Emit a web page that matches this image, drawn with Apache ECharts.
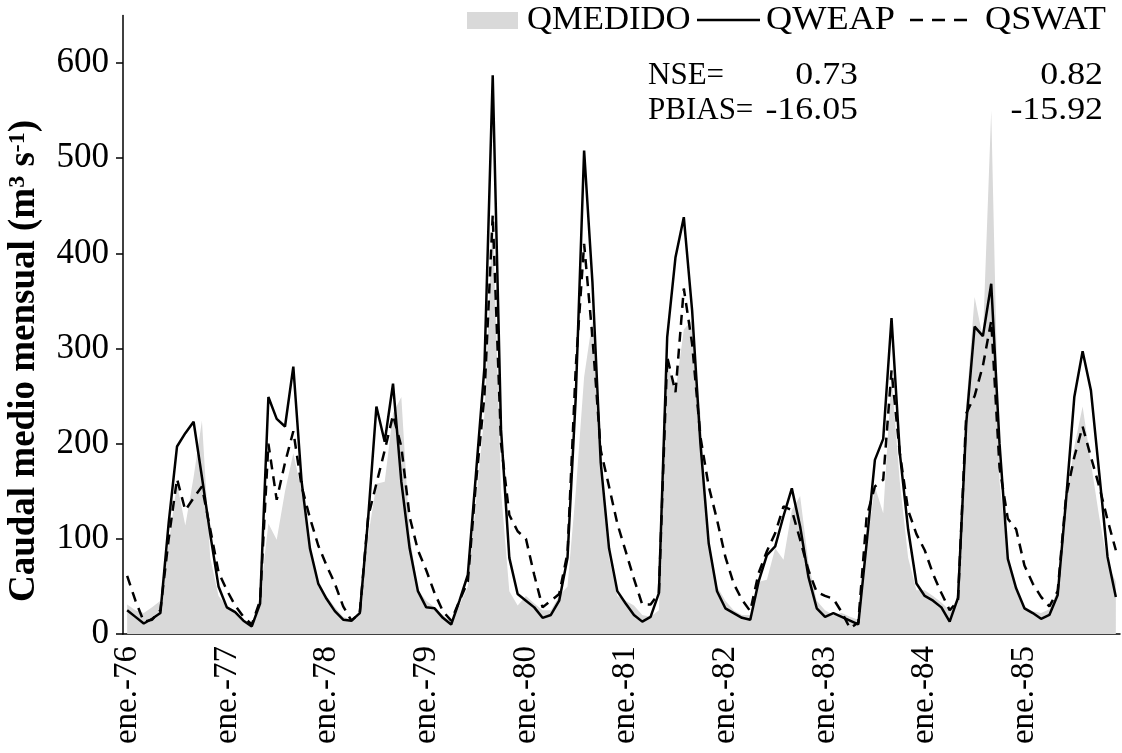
<!DOCTYPE html>
<html>
<head>
<meta charset="utf-8">
<script src="https://cdn.jsdelivr.net/npm/echarts@6/dist/echarts.min.js"></script>
<style>
html,body{margin:0;padding:0;background:#fff;}
#chart{width:1122px;height:753px;}
</style>
</head>
<body>
<div id="chart"></div>
<script>
// ---- data ----
const monthAbbr = ['ene.','feb.','mar.','abr.','may.','jun.','jul.','ago.','sep.','oct.','nov.','dic.'];
const yearLabels = ['76','77','78','79','80','81','82','83','84','85'];
const yTicks = [0,100,200,300,400,500,600];

const qmedido = [
  31,25,22,28,35,95,158,114,165,224,80,40,
  29,25,14,8,40,116,99,150,190,150,90,50,
  40,28,18,15,22,102,158,160,232,249,105,46,
  35,28,20,12,30,50,140,230,440,150,45,30,
  40,32,25,25,40,50,150,270,330,180,80,40,
  35,30,20,18,25,285,255,320,330,230,100,50,
  35,25,20,20,55,57,90,78,130,145,75,35,
  25,20,22,18,15,90,155,127,270,160,80,46,
  46,40,33,25,38,240,354,311,550,160,80,50,
  29,24,22,26,46,137,197,239,180,123,74,55
];
const qweap = [
  25,18,11,16,22,117,197,211,223,165,105,50,
  28,23,14,8,32,249,226,218,281,160,90,53,
  37,24,15,14,22,121,239,202,263,160,90,45,
  28,27,17,10,35,62,170,280,587,215,80,42,
  35,28,17,20,35,80,250,508,370,180,90,45,
  32,20,13,18,43,312,396,438,340,200,95,45,
  27,22,17,15,55,83,92,124,153,113,60,27,
  18,22,18,14,10,95,183,205,332,190,110,53,
  40,35,28,13,38,222,323,313,368,200,79,48,
  27,22,16,20,41,140,249,297,256,169,81,39
];
const qswat = [
  61,35,13,15,25,100,163,130,143,155,110,65,
  46,30,18,10,35,200,141,180,213,155,122,93,
  72,53,29,14,22,123,158,193,230,197,123,88,
  67,43,24,14,35,55,160,250,440,200,125,108,
  100,62,28,35,42,85,281,410,312,193,155,116,
  87,58,31,31,43,291,254,363,305,207,155,120,
  81,53,36,24,64,87,106,134,130,99,67,44,
  40,37,23,6,12,123,155,162,277,190,130,105,
  88,63,43,25,35,232,250,282,329,175,121,110,
  72,53,39,29,45,144,186,218,186,155,120,88
];
const stats = { nse: ['0.73','0.82'], pbias: ['-16.05','-15.92'] };

const categories = [];
yearLabels.forEach(y => monthAbbr.forEach(m => categories.push(m + '-' + y)));

const FONT = "'Liberation Serif', 'Times New Roman', serif";

const chart = echarts.init(document.getElementById('chart'), null, {renderer:'canvas'});
const txt = (t, x, y, align, size, sx) => ({
  type: 'text', x: x, y: y, scaleX: sx || 1,
  style: { text: t, fontFamily: FONT, fontSize: size, fill: '#000', align: align, verticalAlign: 'middle' }
});
const option = {
  backgroundColor: '#fff',
  animation: false,
  grid: { left: 123, right: 2, top: 15.4, bottom: 119, containLabel: false, outerBoundsMode: 'none' },
  xAxis: {
    type: 'category',
    data: categories,
    boundaryGap: true,
    axisLine: { lineStyle: { color: '#000', width: 1.5 } },
    axisTick: { interval: 5, length: 8, lineStyle: { color: '#000', width: 1.5 } },
    axisLabel: { interval: 11, rotate: 90, margin: 12, color: '#000', fontFamily: FONT, fontSize: 33 },
    splitLine: { show: false }
  },
  yAxis: {
    type: 'value',
    min: 0, max: 650, interval: 100,
    axisLine: { show: true, lineStyle: { color: '#000', width: 1.5 } },
    axisTick: { show: true, length: 7, customValues: yTicks, lineStyle: { color: '#000', width: 1.5 } },
    axisLabel: { customValues: yTicks, margin: 14, color: '#000', fontFamily: FONT, fontSize: 35 },
    splitLine: { show: false }
  },
  series: [
    { name: 'QMEDIDO', type: 'line', data: qmedido, symbol: 'none', z: 1,
      lineStyle: { width: 0, color: '#d9d9d9' }, areaStyle: { color: '#d9d9d9', opacity: 1 } },
    { name: 'QSWAT', type: 'line', data: qswat, symbol: 'none', z: 2,
      lineStyle: { width: 2.5, color: '#000', type: [10, 7] } },
    { name: 'QWEAP', type: 'line', data: qweap, symbol: 'none', z: 3,
      lineStyle: { width: 2.5, color: '#000' } }
  ],
  graphic: [
    { type: 'text', x: 24, y: 361, rotation: Math.PI / 2,
      style: { text: '{t|Caudal medio mensual (m}{s|3}{t| s}{s|-1}{t|)}',
        align: 'center', verticalAlign: 'middle', fill: '#000',
        rich: {
          t: { fontFamily: FONT, fontWeight: 'bold', fontSize: 37, fill: '#000' },
          s: { fontFamily: FONT, fontWeight: 'bold', fontSize: 24, fill: '#000', verticalAlign: 'top', padding: [0,0,12,0] }
        } } },
    // legend
    { type: 'rect', shape: { x: 467, y: 12, width: 51, height: 17 }, style: { fill: '#d9d9d9' } },
    txt('QMEDIDO', 527, 20, 'left', 33, 1.05),
    { type: 'line', shape: { x1: 697, y1: 20, x2: 760, y2: 20 }, style: { stroke: '#000', lineWidth: 2.5 } },
    txt('QWEAP', 766, 20, 'left', 33, 1.1),
    { type: 'line', shape: { x1: 910, y1: 20, x2: 976, y2: 20 }, style: { stroke: '#000', lineWidth: 2.5, lineDash: [13, 9] } },
    txt('QSWAT', 985, 20, 'left', 33, 1.1),
    // stats
    txt('NSE=', 648, 76, 'left', 31),
    txt(stats.nse[0], 858, 76, 'right', 32, 1.12),
    txt(stats.nse[1], 1103, 76, 'right', 32, 1.12),
    txt('PBIAS=', 648, 111, 'left', 31),
    txt(stats.pbias[0], 858, 111, 'right', 32, 1.12),
    txt(stats.pbias[1], 1103, 111, 'right', 32, 1.12)
  ]
};
chart.setOption(option);
</script>
</body>
</html>
